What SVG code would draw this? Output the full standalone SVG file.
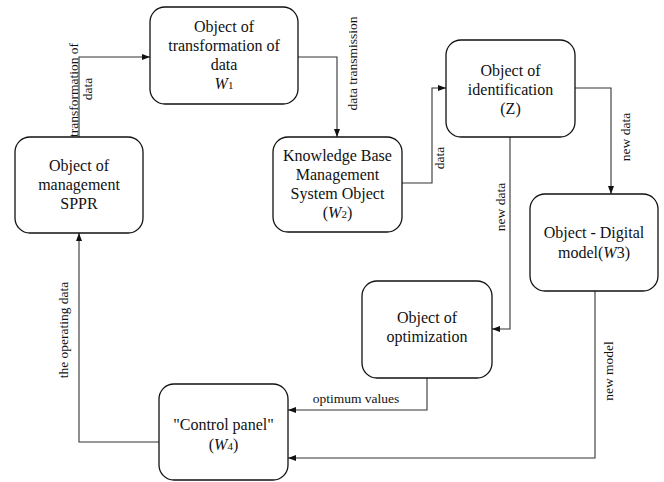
<svg xmlns="http://www.w3.org/2000/svg" width="664" height="482" viewBox="0 0 664 482">
<defs>
<marker id="ah" viewBox="0 0 8 6" refX="8" refY="3" markerWidth="8" markerHeight="6" markerUnits="userSpaceOnUse" orient="auto">
<path d="M0,0 L8,3 L0,6 Z" fill="#111"/>
</marker>
<style>
.box{fill:#fff;stroke:#111;stroke-width:1.3}
.t{font-family:"Liberation Serif","Times New Roman",serif;font-size:16px;fill:#111;text-anchor:middle}
.l{font-family:"Liberation Serif","Times New Roman",serif;font-size:13.5px;fill:#111;text-anchor:middle}
.c{fill:none;stroke:#333;stroke-width:1.1;marker-end:url(#ah)}
.s{font-size:11px}
</style>
</defs>
<rect width="664" height="482" fill="#fff"/>
<g id="connectors">
<path class="c" d="M79,137 V57 H150"/>
<path class="c" d="M298,57 H337 V137"/>
<path class="c" d="M402,183 H432 V88 H446"/>
<path class="c" d="M575,88 H611 V194"/>
<path class="c" d="M510,137 V329 H492"/>
<path class="c" d="M427,378 V410 H288"/>
<path class="c" d="M595,291 V458 H288"/>
<path class="c" d="M159,442 H79 V233"/>
<text class="l" transform="translate(78,90) rotate(-90)">transformation of</text>
<text class="l" transform="translate(92,89) rotate(-90)">data</text>
<text class="l" transform="translate(357,63.5) rotate(-90)">data transmission</text>
<text class="l" transform="translate(444,158) rotate(-90)">data</text>
<text class="l" transform="translate(630,137) rotate(-90)">new data</text>
<text class="l" transform="translate(505,207) rotate(-90)">new data</text>
<text class="l" transform="translate(613,371) rotate(-90)">new model</text>
<text class="l" transform="translate(68,330) rotate(-90)">the operating data</text>
<text class="l" x="356" y="403">optimum values</text>
</g>
<g id="w1">
<rect class="box" x="150" y="7" width="148" height="97" rx="15"/>
<text class="t" x="224" y="32">Object of</text>
<text class="t" x="224" y="51">transformation of</text>
<text class="t" x="224" y="70">data</text>
<text class="t" x="224" y="89"><tspan font-style="italic">W</tspan><tspan class="s">1</tspan></text>
</g>
<g id="sppr">
<rect class="box" x="15" y="137" width="128" height="96" rx="15"/>
<text class="t" x="79" y="171">Object of</text>
<text class="t" x="79" y="190">management</text>
<text class="t" x="79" y="209">SPPR</text>
</g>
<g id="w2">
<rect class="box" x="273" y="137" width="129" height="95" rx="15"/>
<text class="t" x="337.5" y="161">Knowledge Base</text>
<text class="t" x="337.5" y="180">Management</text>
<text class="t" x="337.5" y="199">System Object</text>
<text class="t" x="337.5" y="218">(<tspan font-style="italic">W</tspan><tspan class="s">2</tspan>)</text>
</g>
<g id="z">
<rect class="box" x="446" y="40" width="129" height="97" rx="15"/>
<text class="t" x="510.5" y="76">Object of</text>
<text class="t" x="510.5" y="95">identification</text>
<text class="t" x="510.5" y="114">(Z)</text>
</g>
<g id="w3">
<rect class="box" x="530" y="194" width="128" height="97" rx="15"/>
<text class="t" x="594" y="238">Object - Digital</text>
<text class="t" x="594" y="258">model(<tspan font-style="italic">W</tspan>3)</text>
</g>
<g id="opt">
<rect class="box" x="362" y="281" width="130" height="97" rx="15"/>
<text class="t" x="427" y="323">Object of</text>
<text class="t" x="427" y="342">optimization</text>
</g>
<g id="w4">
<rect class="box" x="159" y="384" width="129" height="96" rx="15"/>
<text class="t" x="223.5" y="430">"Control panel"</text>
<text class="t" x="223.5" y="450">(<tspan font-style="italic">W</tspan><tspan class="s">4</tspan>)</text>
</g>
</svg>
